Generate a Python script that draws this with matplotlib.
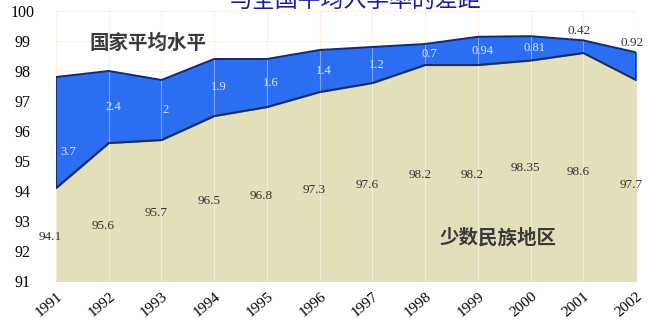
import numpy as np
import matplotlib
matplotlib.use("Agg")
import matplotlib.pyplot as plt
from matplotlib.transforms import ScaledTranslation

plt.rcParams['font.family'] = ['Liberation Serif', 'Noto Sans CJK SC', 'DejaVu Sans']

# Enrolment rate of minority regions and the gap to the national average
years = [1991, 1992, 1993, 1994, 1995, 1996, 1997, 1998, 1999, 2000, 2001, 2002]
minority = [94.1, 95.6, 95.7, 96.5, 96.8, 97.3, 97.6, 98.2, 98.2, 98.35, 98.6, 97.7]
gap = [3.7, 2.4, 2, 1.9, 1.6, 1.4, 1.2, 0.7, 0.94, 0.81, 0.42, 0.92]
minority_labels = ["94.1", "95.6", "95.7", "96.5", "96.8", "97.3", "97.6",
                   "98.2", "98.2", "98.35", "98.6", "97.7"]
gap_labels = ["3.7", "2.4", "2", "1.9", "1.6", "1.4", "1.2", "0.7", "0.94",
              "0.81", "0.42", "0.92"]

x = np.array(years, dtype=float)
low = np.array(minority)
national = low + np.array(gap)

fig = plt.figure(figsize=(6.49, 3.22), dpi=100)
ax = fig.add_axes([0.0863, 0.127, 0.8937, 0.839])

ymin = 91
ax.fill_between(x, ymin, low, color='#e3dfbb', zorder=1)
ax.fill_between(x, low, national, color='#2b6ef2', zorder=2)
ax.plot(x, low, color='#1c2a66', lw=1.4, zorder=3)
ax.plot(x, national, color='#1c2a66', lw=1.4, zorder=3)
ax.vlines([x[0], x[-1]], low[[0, -1]], national[[0, -1]], color='#1c2a66', lw=1.4, zorder=3)

# thin light dividers at each year
ax.vlines(x, ymin, low, color='#f1efd8', lw=0.8, zorder=2)
ax.vlines(x[1:-1], low[1:-1], national[1:-1], color='#7aa6ff', lw=0.8, zorder=2.5)

# gap values inside the blue band
for i, (xi, lo, g, t) in enumerate(zip(x, low, gap, gap_labels)):
    if i == 0:
        ax.text(xi + 0.23, lo + 1.2, t, color='#dfe8ff', fontsize=9,
                ha='center', va='center', zorder=4)
    elif i >= len(x) - 2:
        ax.text(xi - 0.08, lo + g + 0.3, t, color='#333333', fontsize=9.5,
                ha='center', va='center', zorder=4)
    else:
        ax.text(xi + 0.08, lo + g / 2, t, color='#dfe8ff', fontsize=9,
                ha='center', va='center', zorder=4)

# minority values in the beige area
label_y = [92.47, 92.83, 93.27, 93.67, 93.83, 94.03, 94.2, 94.53, 94.53, 94.77, 94.63, 94.2]
for xi, yi, t in zip(x, label_y, minority_labels):
    ax.text(xi - 0.1, yi, t, color='#333333', fontsize=9.5,
            ha='center', va='center', zorder=4)

ax.text(1992.75, 98.93, "国家平均水平", family=['Noto Sans CJK SC'], fontsize=14,
        fontweight='bold', color='#3a3a3a', ha='center', va='center', zorder=4)
ax.text(1999.39, 92.43, "少数民族地区", family=['Noto Sans CJK SC'], fontsize=14,
        fontweight='bold', color='#3a3a3a', ha='center', va='center', zorder=4)

fig.text(0.547, 1 - 12 / 322, "与全国平均入学率的差距", family=['Noto Sans CJK SC'],
         fontsize=16.5, color='#1a1aa8', ha='center', va='bottom')

ax.set_xlim(x[0], x[-1])
ax.set_ylim(ymin, 100)
ax.set_yticks(np.arange(91, 101))
ax.set_xticks(x)
ax.set_xticklabels([str(y) for y in years], rotation=40, fontsize=11)
ax.tick_params(axis='y', labelsize=11.5, length=0, pad=24)
ax.tick_params(axis='x', length=0, pad=2)
for lab in ax.get_yticklabels():
    lab.set_ha('center')
shift = ScaledTranslation(-7 / 100, -6 / 100, fig.dpi_scale_trans)
for lab in ax.get_xticklabels():
    lab.set_transform(lab.get_transform() + shift)
for s in ax.spines.values():
    s.set_visible(False)
ax.grid(True, color='#fcefe3', lw=0.8, zorder=0)
ax.set_axisbelow(True)

fig.savefig("out.png", dpi=100)
